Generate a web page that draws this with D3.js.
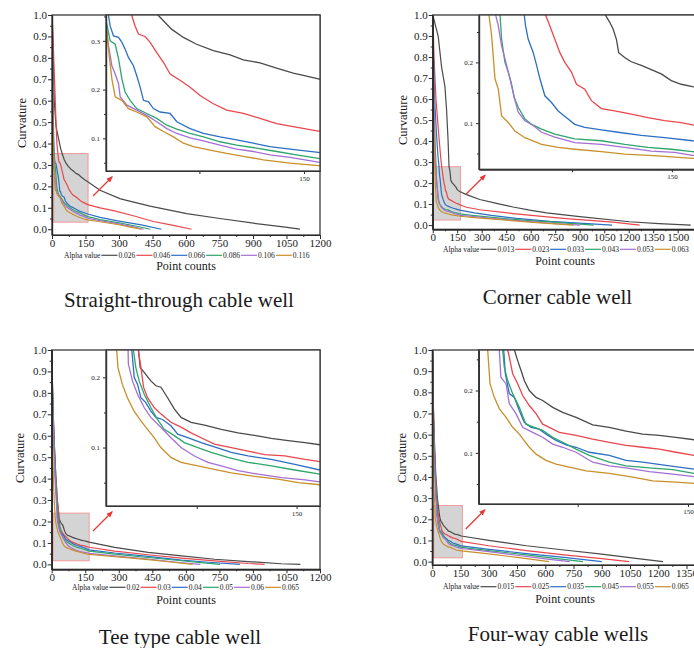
<!DOCTYPE html>
<html>
<head>
<meta charset="utf-8">
<script src="https://cdn.jsdelivr.net/npm/d3@7"></script>
<style>
  body { margin: 0; background: #fff; }
  svg { display: block; }
  text { font-family: "Liberation Serif", "Times New Roman", serif; fill: #1a1a1a; }
</style>
</head>
<body>
<div id="chart"></div>
<script>
// ---------- data ----------
var colors = ["#4a4a4a", "#e8474c", "#2c6fc4", "#2fa56c", "#a46fd4", "#c8902a"];

var titles = ["Straight-through cable well", "Corner cable well", "Tee type cable well", "Four-way cable wells"];

var alphaStraight = ["0.026", "0.046", "0.066", "0.086", "0.106", "0.116"];
var alphaCorner = ["0.013", "0.023", "0.033", "0.043", "0.053", "0.063"];
var alphaTee = ["0.02", "0.03", "0.04", "0.05", "0.06", "0.065"];
var alphaFour = ["0.015", "0.025", "0.035", "0.045", "0.055", "0.065"];

var ticks1200 = [0, 150, 300, 450, 600, 750, 900, 1050, 1200];
var ticks1500 = [0, 150, 300, 450, 600, 750, 900, 1050, 1200, 1350, 1500];
var ticks1350 = [0, 150, 300, 450, 600, 750, 900, 1050, 1200, 1350];
var curvTicks = [0, 0.1, 0.2, 0.3, 0.4, 0.5, 0.6, 0.7, 0.8, 0.9, 1.0];
var insetXTicks = [150];
var insetYTicks = [0.1, 0.2, 0.3];

// straight-through cable well  [point count, curvature]
var s026 = [[1,1.0],[5,0.8],[10,0.6],[18,0.48],[28,0.43],[38,0.38],[45.6,0.352],[55,0.324],[63.5,0.307],[73,0.293],[85,0.28],[97,0.271],[106.5,0.261],[118.5,0.255],[130.4,0.244],[142.3,0.234],[149.5,0.229],[160.3,0.222],[215,0.182],[304,0.143],[334,0.135],[439,0.108],[603,0.073],[752,0.05],[902,0.028],[1036,0.011],[1110,0]];
var s046 = [[1,1.0],[6,0.85],[13,0.65],[18,0.5],[22,0.4],[26.5,0.352],[28.9,0.33],[31.3,0.314],[36,0.309],[39.7,0.297],[44.4,0.276],[49.2,0.256],[54,0.232],[61.1,0.219],[68.3,0.205],[75.5,0.188],[85,0.171],[94.6,0.158],[106.5,0.151],[118.5,0.141],[130.4,0.13],[142.3,0.124],[160.3,0.115],[215,0.1],[275,0.087],[364,0.063],[454,0.036],[543,0.018],[625,0]];
var s066 = [[1,1.0],[3,0.75],[6,0.5],[9,0.38],[9.8,0.352],[11,0.33],[13.4,0.31],[17,0.307],[19.4,0.297],[21.7,0.283],[24.1,0.266],[27.7,0.249],[30,0.229],[32.5,0.205],[34.9,0.178],[38.5,0.175],[42,0.161],[46.8,0.154],[54,0.151],[58.8,0.134],[68.3,0.12],[77.9,0.11],[89.8,0.103],[101.7,0.097],[113.7,0.09],[125.6,0.083],[140,0.078],[160.3,0.071],[215,0.055],[300,0.038],[400,0.02],[490,0]];
var s086 = [[1,1.0],[3,0.7],[5,0.5],[7.4,0.351],[11,0.3],[14.6,0.293],[17,0.263],[19.4,0.222],[21.7,0.195],[25.3,0.178],[30,0.161],[37.3,0.151],[44.4,0.141],[51.6,0.127],[58.8,0.119],[68.3,0.11],[77.9,0.103],[89.8,0.093],[101.7,0.086],[116,0.08],[130.4,0.073],[144.7,0.066],[160.3,0.059],[215,0.045],[300,0.03],[380,0.014],[440,0]];
var s106 = [[1,1.0],[3,0.7],[5,0.5],[7.4,0.351],[9.8,0.29],[12.2,0.249],[14.6,0.232],[17,0.212],[18.2,0.185],[23,0.168],[30,0.158],[37.3,0.147],[44.4,0.134],[51.6,0.12],[58.8,0.11],[68.3,0.101],[77.9,0.095],[89.8,0.086],[101.7,0.078],[113.7,0.073],[125.6,0.066],[140,0.061],[160.3,0.051],[215,0.04],[300,0.025],[360,0.012],[410,0]];
var s116 = [[1,1.0],[2,0.75],[4,0.5],[7.4,0.351],[9.8,0.283],[12.2,0.222],[14.6,0.185],[19.4,0.178],[24.1,0.161],[30,0.154],[37.3,0.144],[43.2,0.124],[49.2,0.114],[56.4,0.103],[63.5,0.09],[70.7,0.083],[82.6,0.076],[94.6,0.069],[106.5,0.063],[120.9,0.056],[140,0.049],[160.3,0.044],[215,0.035],[300,0.021],[350,0.01],[400,0]];

// corner cable well
var c013 = [[1,1.0],[34,0.897],[54,0.754],[75,0.659],[85,0.548],[94,0.405],[100,0.278],[103.3,0.266],[105.8,0.255],[108.3,0.238],[110,0.216],[114.5,0.208],[119.5,0.201],[127,0.195],[134.5,0.188],[142,0.181],[149.5,0.17],[157,0.164],[165.5,0.16],[207,0.145],[288,0.122],[391,0.103],[492,0.086],[594,0.071],[697,0.058],[900,0.04],[1205,0.016],[1385,0.007],[1580,0]];
var c023 = [[1,1.0],[8,0.8],[20,0.6],[35,0.45],[48,0.33],[55,0.278],[58.3,0.26],[62,0.238],[65.8,0.216],[69.5,0.2],[74.5,0.184],[78.3,0.164],[84.5,0.156],[89.5,0.137],[97,0.124],[107,0.12],[119.5,0.115],[132,0.109],[144.5,0.104],[157,0.101],[165.5,0.097],[207,0.085],[288,0.073],[492,0.055],[798,0.032],[1104,0.014],[1267,0]];
var c033 = [[1,1.0],[5,0.8],[12,0.6],[22,0.45],[32,0.33],[39,0.278],[40,0.26],[42,0.238],[45.8,0.216],[48.3,0.195],[50.8,0.173],[54.5,0.145],[59.5,0.134],[64.5,0.12],[70.8,0.109],[77,0.098],[84.5,0.093],[97,0.089],[109.5,0.085],[127,0.08],[144.5,0.076],[165.5,0.071],[256,0.058],[359,0.046],[513,0.032],[718,0.018],[923,0.008],[1098,0]];
var c043 = [[1,1.0],[4,0.8],[8,0.6],[14,0.4],[20.8,0.278],[22,0.238],[24.5,0.2],[27,0.184],[29.5,0.164],[31.5,0.142],[34.5,0.126],[39.5,0.107],[44.5,0.098],[52,0.09],[62,0.082],[77,0.074],[97,0.071],[114.5,0.065],[132,0.06],[149.5,0.057],[165.5,0.053],[256,0.045],[410,0.033],[615,0.02],[821,0.009],[985,0]];
var c053 = [[1,1.0],[4,0.8],[8,0.6],[13,0.4],[17.5,0.278],[19.5,0.26],[22,0.227],[25.8,0.195],[28.3,0.173],[31.5,0.142],[34.5,0.118],[39.5,0.104],[45.8,0.096],[52,0.085],[62,0.077],[77,0.068],[97,0.065],[114.5,0.06],[134.5,0.054],[152,0.052],[165.5,0.047],[256,0.04],[410,0.029],[615,0.015],[770,0.006],[903,0]];
var c063 = [[1,1.0],[3,0.7],[7,0.45],[12.5,0.278],[14.5,0.244],[17,0.173],[19.5,0.156],[22,0.112],[27,0.101],[32,0.087],[39.5,0.076],[52,0.065],[64.5,0.06],[77,0.057],[97,0.053],[114.5,0.049],[139.5,0.046],[165.5,0.042],[256,0.036],[410,0.026],[615,0.013],[770,0.005],[862,0]];

// tee type cable well
var t020 = [[1,1.0],[4,0.8],[10,0.6],[18,0.42],[25,0.3],[31.2,0.239],[32.5,0.214],[35.5,0.207],[40.5,0.195],[44.3,0.188],[48.1,0.186],[53.1,0.171],[58.1,0.155],[63.2,0.143],[70.7,0.136],[80.8,0.132],[93.4,0.126],[106,0.121],[119.5,0.117],[131,0.113],[143.7,0.11],[156.3,0.107],[167.6,0.104],[200,0.097],[282,0.079],[431,0.056],[580,0.04],[729,0.024],[878,0.013],[1027,0.003],[1112,0]];
var t030 = [[1,1.0],[4,0.8],[10,0.6],[18,0.42],[25,0.3],[31,0.239],[33,0.215],[35,0.186],[38,0.171],[43,0.157],[48,0.148],[55.6,0.136],[63.2,0.129],[70.7,0.121],[78.3,0.114],[88.3,0.105],[100.9,0.1],[113.5,0.095],[126,0.09],[141.2,0.088],[156.3,0.083],[167.6,0.08],[282,0.062],[431,0.045],[580,0.029],[729,0.016],[878,0.004],[952,0]];
var t040 = [[1,1.0],[4,0.8],[9,0.6],[16,0.42],[22,0.3],[26.2,0.239],[28,0.2],[30.5,0.19],[33,0.171],[36.7,0.164],[40.5,0.152],[44.3,0.143],[49.3,0.14],[55.6,0.131],[60.7,0.119],[68.2,0.114],[78.3,0.107],[88.3,0.101],[100.9,0.093],[113.5,0.088],[131,0.083],[148.7,0.076],[167.6,0.068],[282,0.053],[431,0.037],[580,0.02],[700,0.01],[842,0]];
var t050 = [[1,1.0],[4,0.8],[9,0.6],[16,0.42],[23,0.3],[27.4,0.239],[29.2,0.214],[31.7,0.195],[35.5,0.176],[40.5,0.157],[45.5,0.14],[50.6,0.126],[58.1,0.117],[65.7,0.107],[75.8,0.1],[85.8,0.093],[98.4,0.086],[113.5,0.079],[131,0.074],[148.7,0.068],[167.6,0.062],[282,0.048],[431,0.032],[580,0.017],[680,0.007],[753,0]];
var t060 = [[1,1.0],[3,0.8],[8,0.6],[14,0.42],[20,0.3],[23.4,0.239],[23.6,0.219],[26.7,0.195],[30.5,0.176],[35.5,0.157],[40.5,0.143],[48,0.129],[55.6,0.114],[63.2,0.1],[73.2,0.088],[83.3,0.079],[93.4,0.074],[106,0.067],[121,0.062],[138.7,0.057],[156.3,0.054],[167.6,0.051],[282,0.04],[431,0.025],[560,0.01],[665,0]];
var t065 = [[1,1.0],[2,0.8],[4,0.6],[7,0.42],[11,0.3],[14.8,0.239],[15.8,0.214],[19.1,0.19],[22.9,0.171],[27.9,0.152],[33,0.138],[38,0.126],[43,0.114],[48,0.1],[55.6,0.086],[63.2,0.079],[75.8,0.074],[88.3,0.069],[100.9,0.064],[118.5,0.059],[136,0.055],[151.2,0.05],[167.6,0.047],[282,0.036],[431,0.022],[540,0.01],[630,0]];

// four-way cable wells
var f015 = [[1,1.0],[4,0.8],[10,0.6],[18,0.42],[27,0.3],[32,0.265],[34.2,0.248],[36.5,0.232],[38.7,0.216],[42.1,0.2],[46.7,0.189],[51.2,0.184],[58,0.173],[64.8,0.165],[73.9,0.157],[85.2,0.145],[96.5,0.141],[107.9,0.135],[119.2,0.13],[130.5,0.128],[141.8,0.125],[154.1,0.121],[300,0.1],[500,0.075],[700,0.055],[900,0.035],[1080,0.015],[1225,0]];
var f025 = [[1,1.0],[4,0.8],[9,0.6],[16,0.42],[23,0.3],[27.4,0.265],[28.5,0.254],[30.8,0.227],[34.2,0.211],[37.6,0.192],[42.1,0.176],[46.7,0.163],[51.2,0.146],[55.7,0.141],[62.5,0.133],[73.9,0.128],[85.2,0.122],[96.5,0.117],[107.9,0.112],[119.2,0.109],[130.5,0.106],[141.8,0.101],[154.1,0.096],[300,0.075],[500,0.052],[700,0.032],[900,0.014],[1045,0]];
var f035 = [[1,1.0],[3,0.8],[8,0.6],[15,0.42],[21,0.3],[24.7,0.265],[25.8,0.227],[28.5,0.195],[31.9,0.189],[35.3,0.168],[38.7,0.149],[43.3,0.141],[48.9,0.138],[53.5,0.13],[60.3,0.12],[67.1,0.113],[73.9,0.109],[82.9,0.101],[96.5,0.096],[107.9,0.088],[119.2,0.085],[135,0.08],[154.1,0.074],[300,0.058],[500,0.038],[700,0.02],[900,0]];
var f045 = [[1,1.0],[3,0.8],[8,0.6],[15,0.42],[21,0.3],[24,0.265],[25.1,0.237],[27.4,0.216],[30.8,0.195],[35.3,0.173],[39.8,0.146],[45.5,0.141],[51.2,0.136],[58,0.125],[64.8,0.117],[73.9,0.106],[82.9,0.096],[96.5,0.085],[107.9,0.079],[123.7,0.076],[139.6,0.073],[154.1,0.067],[300,0.052],[500,0.032],[650,0.015],[800,0]];
var f055 = [[1,1.0],[3,0.8],[7,0.6],[13,0.42],[18,0.3],[21.7,0.265],[22.8,0.221],[26.3,0.211],[28.5,0.179],[33,0.163],[37.6,0.141],[44.4,0.133],[51.2,0.125],[58,0.114],[64.8,0.109],[73.9,0.101],[85.2,0.085],[96.5,0.079],[107.9,0.076],[123.7,0.07],[139.6,0.066],[154.1,0.062],[300,0.047],[450,0.03],[600,0.013],[730,0]];
var f065 = [[1,1.0],[2,0.8],[4,0.6],[7,0.42],[11,0.3],[13.8,0.265],[15.4,0.211],[18.3,0.189],[21.7,0.171],[26.3,0.157],[30.8,0.141],[35.3,0.13],[42.1,0.109],[46.7,0.098],[53.5,0.088],[60.3,0.082],[69.3,0.077],[80.7,0.071],[96.5,0.067],[112.4,0.061],[126,0.055],[141.8,0.053],[154.1,0.051],[300,0.037],[450,0.02],[540,0.009],[620,0]];

// ---------- layout ----------
var panels = [
  { series: [s026, s046, s066, s086, s106, s116], alphas: alphaStraight, title: titles[0], xTicks: ticks1200,
    xDomain: [0, 1200], xRange: [52, 320], yDomain: [-0.027, 1], yRange: [235, 15],
    inX: [8, 161.5], inY: [0.033, 0.353], inBox: [106, 320, 15, 171],
    legend: [64, 255.3], xLab: [186, 270], yLab: [22, 123], titlePos: [179, 307] },
  { series: [c013, c023, c033, c043, c053, c063], alphas: alphaCorner, title: titles[1], xTicks: ticks1500,
    xDomain: [0, 1650], xRange: [432.7, 702.2], yDomain: [-0.02, 1], yRange: [229.3, 15],
    inX: [5, 170], inY: [0.024, 0.278], inBox: [479, 698.5, 15, 169.3],
    legend: [443, 249.3], xLab: [565, 265], yLab: [403, 120], titlePos: [557.5, 304] },
  { series: [t020, t030, t040, t050, t060, t065], alphas: alphaTee, title: titles[2], xTicks: ticks1200,
    xDomain: [0, 1200], xRange: [51.7, 320], yDomain: [-0.023, 1], yRange: [569.3, 350],
    inX: [6.8, 167.6], inY: [0.0167, 0.239], inBox: [106, 320, 350, 506],
    legend: [72, 587.3], xLab: [186, 604], yLab: [20, 458], titlePos: [180, 644] },
  { series: [f015, f025, f035, f045, f055, f065], alphas: alphaFour, title: titles[3], xTicks: ticks1350,
    xDomain: [0, 1650], xRange: [432.3, 743], yDomain: [-0.016, 1], yRange: [565, 350],
    inX: [7.7, 160], inY: [0.018, 0.265], inBox: [478.7, 702.7, 350, 504],
    legend: [443, 586.7], xLab: [565, 603], yLab: [402, 458], titlePos: [558, 641] }
];

var svg = d3.select("#chart").append("svg")
  .attr("width", 694)
  .attr("height", 648);

var defs = svg.append("defs");
defs.append("marker")
  .attr("id", "arrowhead")
  .attr("viewBox", "0 0 10 10")
  .attr("refX", 8).attr("refY", 5)
  .attr("markerWidth", 5).attr("markerHeight", 5)
  .attr("orient", "auto")
  .append("path")
  .attr("d", "M0,1L10,5L0,9z")
  .attr("fill", "#e53935");

function midTicks(vals) {
  var out = [];
  for (var i = 0; i < vals.length - 1; i++) out.push((vals[i] + vals[i + 1]) / 2);
  return out;
}

function styleAxis(sel, size) {
  sel.selectAll("path").attr("stroke", "#2a2a2a").attr("stroke-width", 1.2);
  sel.selectAll("line").attr("stroke", "#2a2a2a").attr("stroke-width", 1);
  sel.selectAll("text").attr("font-size", size).attr("fill", "#1a1a1a")
    .style("font-family", '"Liberation Serif", serif');
}

panels.forEach(function(p, idx) {
  var x = d3.scaleLinear().domain(p.xDomain).range(p.xRange);
  var y = d3.scaleLinear().domain(p.yDomain).range(p.yRange);
  var g = svg.append("g");

  var line = d3.line()
    .x(function(d) { return x(d[0]); })
    .y(function(d) { return y(d[1]); });

  defs.append("clipPath").attr("id", "clipMain" + idx)
    .append("rect")
    .attr("x", p.xRange[0]).attr("y", p.yRange[1])
    .attr("width", p.xRange[1] - p.xRange[0])
    .attr("height", p.yRange[0] - p.yRange[1]);

  // gray zoom box
  var bx0 = x(p.inX[0]), bx1 = x(p.inX[1]), by0 = y(p.inY[1]), by1 = y(p.inY[0]);
  g.append("rect")
    .attr("x", bx0).attr("y", by0)
    .attr("width", bx1 - bx0).attr("height", by1 - by0)
    .attr("fill", "#d4d4d4")
    .attr("stroke", "#f29a9a")
    .attr("stroke-width", 1);

  // main curves
  g.append("g").attr("clip-path", "url(#clipMain" + idx + ")")
    .selectAll("path")
    .data(p.series).enter()
    .append("path")
    .attr("d", line)
    .attr("fill", "none")
    .attr("stroke", function(d, i) { return colors[i]; })
    .attr("stroke-width", 1.2);

  // axes
  var xAx = g.append("g").attr("transform", "translate(0," + p.yRange[0] + ")")
    .call(d3.axisBottom(x).tickValues(p.xTicks).tickSize(4).tickSizeOuter(0).tickPadding(0).tickFormat(d3.format("d")));
  styleAxis(xAx, 11);
  var xMin = g.append("g").attr("transform", "translate(0," + p.yRange[0] + ")")
    .call(d3.axisBottom(x).tickValues(midTicks(p.xTicks)).tickSize(2).tickSizeOuter(0).tickFormat(""));
  styleAxis(xMin, 11);
  var yAx = g.append("g").attr("transform", "translate(" + p.xRange[0] + ",0)")
    .call(d3.axisLeft(y).tickValues(curvTicks).tickSize(4).tickSizeOuter(0).tickPadding(1).tickFormat(d3.format(".1f")));
  styleAxis(yAx, 11);
  var yMin = g.append("g").attr("transform", "translate(" + p.xRange[0] + ",0)")
    .call(d3.axisLeft(y).tickValues(midTicks(curvTicks)).tickSize(2).tickSizeOuter(0).tickFormat(""));
  styleAxis(yMin, 11);

  // frame
  g.append("rect")
    .attr("x", p.xRange[0]).attr("y", p.yRange[1])
    .attr("width", p.xRange[1] - p.xRange[0])
    .attr("height", p.yRange[0] - p.yRange[1])
    .attr("fill", "none")
    .attr("stroke", "#2a2a2a")
    .attr("stroke-width", 1.2);

  // inset
  var ix = d3.scaleLinear().domain(p.inX).range([p.inBox[0], p.inBox[1]]);
  var iy = d3.scaleLinear().domain(p.inY).range([p.inBox[3], p.inBox[2]]);
  var iline = d3.line()
    .x(function(d) { return ix(d[0]); })
    .y(function(d) { return iy(d[1]); });

  defs.append("clipPath").attr("id", "clipInset" + idx)
    .append("rect")
    .attr("x", p.inBox[0]).attr("y", p.inBox[2])
    .attr("width", p.inBox[1] - p.inBox[0])
    .attr("height", p.inBox[3] - p.inBox[2]);

  g.append("rect")
    .attr("x", p.inBox[0]).attr("y", p.inBox[2])
    .attr("width", p.inBox[1] - p.inBox[0])
    .attr("height", p.inBox[3] - p.inBox[2])
    .attr("fill", "#fff");

  g.append("g").attr("clip-path", "url(#clipInset" + idx + ")")
    .selectAll("path")
    .data(p.series).enter()
    .append("path")
    .attr("d", iline)
    .attr("fill", "none")
    .attr("stroke", function(d, i) { return colors[i]; })
    .attr("stroke-width", 1.3);

  var ixAx = g.append("g").attr("transform", "translate(0," + p.inBox[3] + ")")
    .call(d3.axisBottom(ix).tickValues(insetXTicks).tickSize(3).tickSizeOuter(0).tickPadding(2));
  styleAxis(ixAx, 7);
  var ixMin = g.append("g").attr("transform", "translate(0," + p.inBox[3] + ")")
    .call(d3.axisBottom(ix).tickValues([75]).tickSize(3).tickSizeOuter(0).tickFormat(""));
  styleAxis(ixMin, 7);
  var iyVals = insetYTicks.filter(function(v) { return v >= p.inY[0] && v <= p.inY[1]; });
  var iyAx = g.append("g").attr("transform", "translate(" + p.inBox[0] + ",0)")
    .call(d3.axisLeft(iy).tickValues(iyVals).tickSize(3).tickSizeOuter(0).tickPadding(3).tickFormat(d3.format(".1f")));
  styleAxis(iyAx, 7);
  var iyMinVals = [0.05, 0.15, 0.25, 0.35].filter(function(v) { return v >= p.inY[0] && v <= p.inY[1]; });
  var iyMin = g.append("g").attr("transform", "translate(" + p.inBox[0] + ",0)")
    .call(d3.axisLeft(iy).tickValues(iyMinVals).tickSize(2).tickSizeOuter(0).tickFormat(""));
  styleAxis(iyMin, 7);

  g.append("rect")
    .attr("x", p.inBox[0]).attr("y", p.inBox[2])
    .attr("width", p.inBox[1] - p.inBox[0])
    .attr("height", p.inBox[3] - p.inBox[2])
    .attr("fill", "none")
    .attr("stroke", "#3a3a3a")
    .attr("stroke-width", 1.3);

  // red arrow from zoom box to inset
  var ax1 = p.inBox[0] + 6, ay1 = p.inBox[3] + 6;
  g.append("line")
    .attr("x1", ax1 - 19).attr("y1", ay1 + 19)
    .attr("x2", ax1).attr("y2", ay1)
    .attr("stroke", "#e53935")
    .attr("stroke-width", 1.3)
    .attr("marker-end", "url(#arrowhead)");

  // legend
  var lg = g.append("g").attr("transform", "translate(" + p.legend[0] + "," + p.legend[1] + ")");
  var lt = lg.append("text")
    .attr("font-size", 7.5)
    .attr("dominant-baseline", "central")
    .text("Alpha value");
  var cx = lt.node().getComputedTextLength() + 1;
  p.alphas.forEach(function(a, i) {
    lg.append("line")
      .attr("x1", cx).attr("x2", cx + 16)
      .attr("y1", 0).attr("y2", 0)
      .attr("stroke", colors[i])
      .attr("stroke-width", 1.2);
    cx += 17;
    var tt = lg.append("text")
      .attr("x", cx)
      .attr("font-size", 7.5)
      .attr("dominant-baseline", "central")
      .text(a);
    cx += tt.node().getComputedTextLength() + 1;
  });

  // axis titles
  g.append("text")
    .attr("x", p.xLab[0]).attr("y", p.xLab[1])
    .attr("text-anchor", "middle")
    .attr("font-size", 12)
    .text("Point counts");
  g.append("text")
    .attr("transform", "translate(" + p.yLab[0] + "," + p.yLab[1] + ") rotate(-90)")
    .attr("text-anchor", "middle")
    .attr("dominant-baseline", "central")
    .attr("font-size", 12.5)
    .text("Curvature");

  // panel title
  g.append("text")
    .attr("x", p.titlePos[0]).attr("y", p.titlePos[1])
    .attr("text-anchor", "middle")
    .attr("font-size", 21)
    .text(p.title);
});
</script>
</body>
</html>
